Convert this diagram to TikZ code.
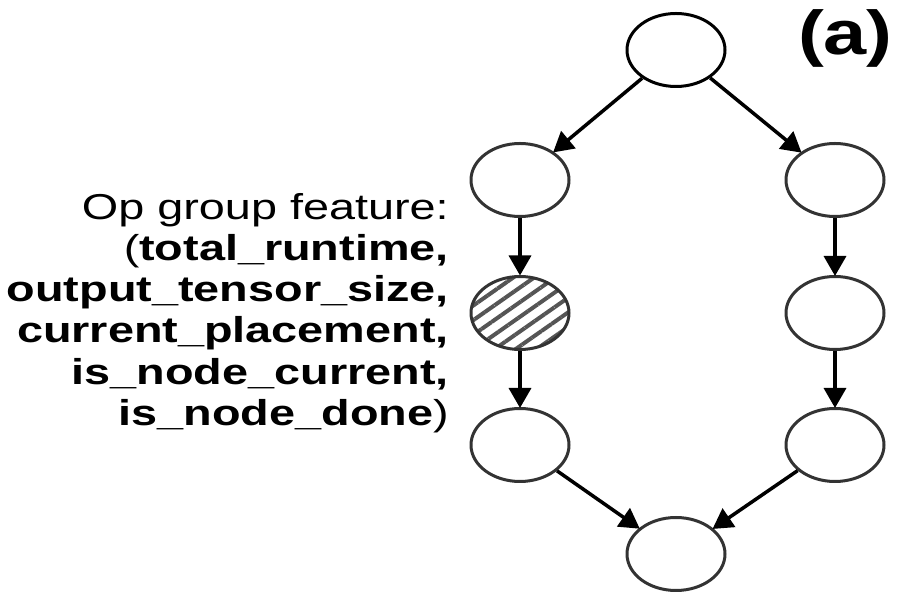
\documentclass[tikz,border=0pt]{standalone}
\usepackage{fontspec}
\setmainfont[FakeStretch=1.3]{Liberation Sans}
\newfontfamily\labfont[FakeStretch=1.25]{Liberation Sans}
\usetikzlibrary{arrows.meta,shapes.geometric,patterns.meta}
\definecolor{ringgray}{HTML}{333333}
\definecolor{hatchgray}{HTML}{555555}
\tikzset{
  opnode/.style={ellipse, draw=ringgray, line width=3pt, minimum width=98pt, minimum height=73pt, inner sep=0pt, fill=white},
  hatched/.style={opnode, pattern={Lines[angle=35, distance=12pt, line width=4pt]}, pattern color=hatchgray},
  edge/.style={line width=3.5pt, -{Triangle[length=20pt,width=22pt]}, shorten >=-1pt},
  feat/.style={align=right, anchor=north east, inner sep=0pt, font=\fontsize{36pt}{41.2pt}\selectfont}
}
\begin{document}
\begin{tikzpicture}[x=1pt,y=1pt]
\useasboundingbox (0,0) rectangle (900,593);
\node[opnode, draw=black] (top) at (676,543) {};
\node[opnode] (l1) at (520,413) {};
\node[hatched] (l2) at (520,280) {};
\node[opnode] (l3) at (520,148) {};
\node[opnode] (r1) at (835,413) {};
\node[opnode] (r2) at (835,280) {};
\node[opnode] (r3) at (835,148) {};
\node[opnode] (bot) at (676,39) {};
\draw[edge] (top) -- (l1);
\draw[edge] (top) -- (r1);
\draw[edge] (l1) -- (l2);
\draw[edge] (l2) -- (l3);
\draw[edge] (r1) -- (r2);
\draw[edge] (r2) -- (r3);
\draw[edge] (l3) -- (bot);
\draw[edge] (r3) -- (bot);
\node[feat] (feat) at (449,400) {Op group feature:\\(\textbf{total\_runtime,}\\\textbf{output\_tensor\_size,}\\\textbf{current\_placement,}\\\textbf{is\_node\_current,}\\\textbf{is\_node\_done})};
\node[anchor=east, inner sep=0pt, font=\labfont\fontsize{62pt}{62pt}\selectfont\bfseries] (lab) at (893,555) {(a)};
\end{tikzpicture}
\end{document}
